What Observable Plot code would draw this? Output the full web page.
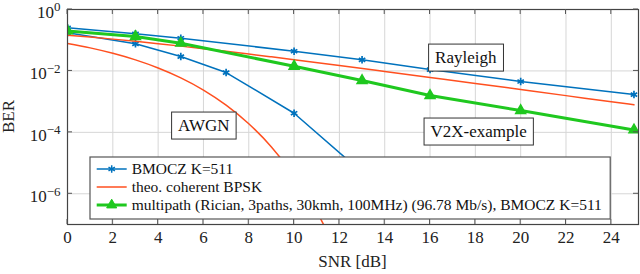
<!DOCTYPE html>
<html><head><meta charset="utf-8">
<script src="https://cdn.jsdelivr.net/npm/d3@7"></script>
<script src="https://cdn.jsdelivr.net/npm/@observablehq/plot@0.6"></script>
<style>body{margin:0;background:#fff} svg{display:block}</style>
</head><body><div id="chart"></div>
<script>
// ---- data ----
const xTicks = [0, 2, 4, 6, 8, 10, 12, 14, 16, 18, 20, 22, 24];
const yTicks = [1, 1e-2, 1e-4, 1e-6];
const yTickExponents = ["0", "−2", "−4", "−6"];

const bmoczRayleighSNR = [0, 3, 5, 10, 13, 16, 20, 25];
const bmoczRayleighBER = [0.253, 0.162, 0.116, 0.0438, 0.023, 0.0111, 0.00452, 0.0017];

const bmoczAwgnSNR = [0, 3, 5, 7, 10, 13];
const bmoczAwgnBER = [0.174, 0.0763, 0.0294, 0.00887, 4.19e-4, 5e-6];

const bpskRayleighSNR = [0, 1, 2, 3, 4, 5, 6, 7, 8, 9, 10, 12, 14, 16, 18, 20, 22, 24, 25];
const bpskRayleighBER = [0.1464, 0.1267, 0.1085, 0.0919, 0.0771, 0.0642, 0.0530, 0.0435, 0.0355, 0.0288, 0.0233, 0.0151, 0.00966, 0.00616, 0.00392, 0.00248, 0.00157, 0.00099, 0.00079];

const bpskAwgnSNR = [0, 1, 2, 3, 4, 5, 6, 7, 8, 9, 10, 11, 12];
const bpskAwgnBER = [0.0786, 0.0563, 0.0375, 0.0229, 0.0125, 0.00595, 0.00239, 7.73e-4, 1.91e-4, 3.36e-5, 3.87e-6, 2.61e-7, 9.0e-9];

const v2xSNR = [0, 3, 5, 10, 13, 16, 20, 25];
const v2xBER = [0.2, 0.132, 0.0798, 0.0142, 0.00487, 0.00158, 5.13e-4, 1.2e-4];

const legendLabels = [
  "BMOCZ K=511",
  "theo. coherent BPSK",
  "multipath (Rician, 3paths, 30kmh, 100MHz) (96.78 Mb/s), BMOCZ K=511"
];

const annotationTexts = ["Rayleigh", "V2X-example", "AWGN"];
const annotationSNR = [17.6, 18.17, 6.04];
const annotationBER = [0.0271, 1.06e-4, 1.66e-4];

// ---- styles ----
const BLUE = "#0072BD", ORANGE = "#FF4F1F", GREEN = "#1FC81F";
const FONT = "Liberation Serif, DejaVu Serif, serif";

const tbl = (xs, ys) => xs.map((x, i) => ({x, y: ys[i]}));
const bmR = tbl(bmoczRayleighSNR, bmoczRayleighBER);
const bmA = tbl(bmoczAwgnSNR, bmoczAwgnBER);
const bpR = tbl(bpskRayleighSNR, bpskRayleighBER);
const bpA = tbl(bpskAwgnSNR, bpskAwgnBER);
const v2x = tbl(v2xSNR, v2xBER);
const ann = annotationTexts.map((t, i) => ({t, x: annotationSNR[i], y: annotationBER[i]}));

function overlay(index, scales, values, dim) {
  const g = d3.create("svg:g").attr("font-family", FONT).attr("text-anchor", "start");
  const L = dim.marginLeft, R = dim.width - dim.marginRight;
  const T = dim.marginTop, B = dim.height - dim.marginBottom;
  const tk = 5;
  for (const v of xTicks) {
    const px = scales.x(v);
    g.append("line").attr("x1", px).attr("x2", px).attr("y1", B).attr("y2", B - tk).attr("stroke", "#555");
    g.append("line").attr("x1", px).attr("x2", px).attr("y1", T).attr("y2", T + tk).attr("stroke", "#555");
  }
  for (const v of yTicks) {
    const py = scales.y(v);
    g.append("line").attr("x1", L).attr("x2", L + tk).attr("y1", py).attr("y2", py).attr("stroke", "#555");
    g.append("line").attr("x1", R).attr("x2", R - tk).attr("y1", py).attr("y2", py).attr("stroke", "#555");
  }
  ann.forEach(a => {
    const cx = scales.x(a.x), cy = scales.y(a.y);
    const gg = g.append("g");
    gg.append("rect").attr("fill", "white").attr("stroke", "#333").attr("stroke-width", 1).attr("data-text", a.t);
    gg.append("text").attr("x", cx).attr("y", cy).attr("dy", "0.35em")
      .attr("text-anchor", "middle").attr("font-family", FONT).attr("font-size", 17).attr("fill", "#111").text(a.t);
  });
  const lg = g.append("g").attr("class", "legend");
  const lx = L + 23, lh = 62, ly = B - 5 - lh;
  lg.append("rect").attr("x", lx).attr("y", ly).attr("height", lh).attr("fill", "white")
    .attr("stroke", "#555").attr("stroke-width", 1.2).attr("class", "lgbox");
  const colors = [BLUE, ORANGE, GREEN];
  const widths = [1.5, 1.5, 3];
  legendLabels.forEach((lab, i) => {
    const cy = ly + 12 + i * 18;
    lg.append("line").attr("x1", lx + 6.7).attr("x2", lx + 36.7).attr("y1", cy).attr("y2", cy)
      .attr("stroke", colors[i]).attr("stroke-width", widths[i]);
    if (i === 0) lg.append("path").attr("d", d3.symbol(d3.symbolAsterisk, Math.PI * 12)())
      .attr("transform", `translate(${lx + 21.7},${cy})`).attr("stroke", BLUE).attr("stroke-width", 1.5).attr("fill", "none");
    if (i === 2) lg.append("path").attr("d", d3.symbol(d3.symbolTriangle, Math.PI * 14)())
      .attr("transform", `translate(${lx + 21.7},${cy})`).attr("stroke", GREEN).attr("fill", GREEN);
    lg.append("text").attr("x", lx + 41.7).attr("y", cy).attr("dy", "0.35em").attr("font-family", FONT)
      .attr("text-anchor", "start").attr("font-size", 15.5).attr("fill", "#111").text(lab);
  });
  g.append("text").attr("x", (L + R) / 2).attr("y", dim.height - 7).attr("text-anchor", "middle")
    .attr("font-family", FONT).attr("font-size", 17).attr("fill", "#222").text("SNR [dB]");
  g.append("text").attr("transform", `translate(13.5,${(T + B) / 2}) rotate(-90)`).attr("text-anchor", "middle")
    .attr("font-family", FONT).attr("font-size", 17).attr("fill", "#222").text("BER");
  return g.node();
}

const chart = Plot.plot({
  width: 640, height: 274,
  marginLeft: 67, marginRight: 2, marginTop: 9, marginBottom: 50,
  style: {fontFamily: FONT, fontSize: "17px", color: "#222", background: "white"},
  x: {domain: [0, 25.2], label: null},
  y: {type: "log", domain: [1e-7, 1], label: null},
  marks: [
    Plot.gridX(xTicks, {stroke: "#d6d6d6", strokeOpacity: 1, strokeWidth: 1}),
    Plot.gridY(yTicks, {stroke: "#d6d6d6", strokeOpacity: 1, strokeWidth: 1}),
    Plot.axisX(xTicks, {tickSize: 0, tickPadding: 6, fontSize: 17, fontFamily: FONT, fill: "#222", label: null, tickFormat: d => String(d)}),
    Plot.axisY(yTicks, {tickSize: 0, tickPadding: 7, dy: 3, fontSize: 17, fontFamily: FONT, fill: "#222", label: null,
      tickFormat: d => "10^" + yTickExponents[yTicks.indexOf(d)]}),
    Plot.line(bmR, {x: "x", y: "y", stroke: BLUE, strokeWidth: 1.5, clip: true}),
    Plot.line(bmA, {x: "x", y: "y", stroke: BLUE, strokeWidth: 1.5, clip: true}),
    Plot.dot(bmR, {x: "x", y: "y", symbol: "asterisk", r: 3.5, stroke: BLUE, strokeWidth: 1.7, clip: true}),
    Plot.dot(bmA, {x: "x", y: "y", symbol: "asterisk", r: 3.5, stroke: BLUE, strokeWidth: 1.7, clip: true}),
    Plot.line(bpR, {x: "x", y: "y", stroke: ORANGE, strokeWidth: 1.5, curve: "monotone-x", clip: true}),
    Plot.line(bpA, {x: "x", y: "y", stroke: ORANGE, strokeWidth: 1.5, curve: "monotone-x", clip: true}),
    Plot.line(v2x, {x: "x", y: "y", stroke: GREEN, strokeWidth: 3, clip: true}),
    Plot.dot(v2x, {x: "x", y: "y", symbol: "triangle", r: 3.7, fill: GREEN, stroke: GREEN, clip: true}),
    Plot.frame({stroke: "#444", strokeWidth: 1.2}),
    overlay
  ]
});
document.getElementById("chart").appendChild(chart);

d3.select(chart).selectAll('g[aria-label="y-axis tick label"] text').each(function () {
  const s = this.textContent;
  if (!s.startsWith("10^")) return;
  const e = s.slice(3);
  const t = d3.select(this);
  t.text("10");
  t.append("tspan").attr("dy", "-0.5em").attr("font-size", "13px").text(e);
});
d3.select(chart).selectAll("rect[data-text]").each(function () {
  const txt = this.nextSibling;
  const bb = txt.getBBox();
  d3.select(this).attr("x", bb.x - 6.5).attr("y", bb.y - 4).attr("width", bb.width + 13).attr("height", bb.height + 8);
});
d3.select(chart).selectAll("g.legend").each(function () {
  const texts = d3.select(this).selectAll("text").nodes();
  const box = d3.select(this).select("rect.lgbox");
  const x0 = +box.attr("x");
  const right = d3.max(texts, t => { const b = t.getBBox(); return b.x + b.width; });
  box.attr("width", right + 8.4 - x0);
});
</script></body></html>
